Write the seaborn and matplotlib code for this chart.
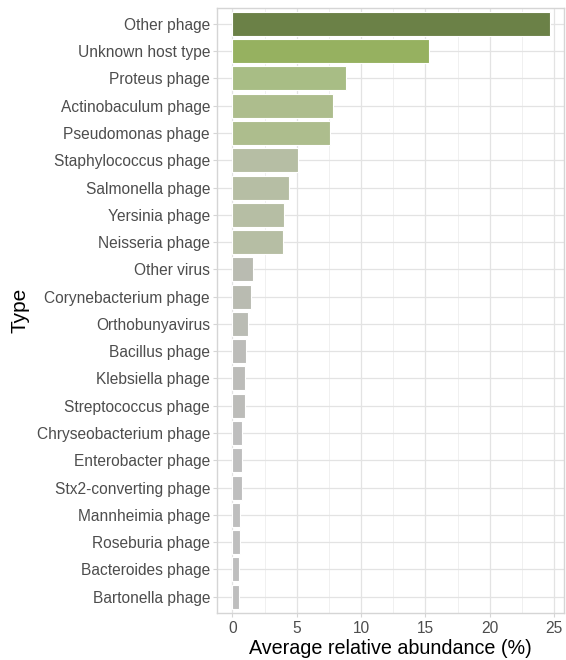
import numpy as np
import pandas as pd
import matplotlib
matplotlib.use("Agg")
import matplotlib.pyplot as plt
import seaborn as sns
from matplotlib.ticker import MultipleLocator

# Data
types = [
    "Other phage", "Unknown host type", "Proteus phage", "Actinobaculum phage",
    "Pseudomonas phage", "Staphylococcus phage", "Salmonella phage",
    "Yersinia phage", "Neisseria phage", "Other virus", "Corynebacterium phage",
    "Orthobunyavirus", "Bacillus phage", "Klebsiella phage", "Streptococcus phage",
    "Chryseobacterium phage", "Enterobacter phage", "Stx2-converting phage",
    "Mannheimia phage", "Roseburia phage", "Bacteroides phage", "Bartonella phage",
]
abundance = [24.7, 15.3, 8.8, 7.8, 7.6, 5.1, 4.4, 4.05, 3.9, 1.6, 1.45,
             1.25, 1.04, 1.0, 0.96, 0.74, 0.73, 0.72, 0.6, 0.58, 0.53, 0.52]
bar_colors = ["#6E8B3D", "#9ABF52", "#AAC77B", "#B0C585", "#B0C585",
              "#B8C2A0", "#B8C2A0", "#B8C2A0", "#B8C2A0", "#BABDAF", "#BABDAF",
              "#BBBDB3", "#BCBDB8", "#BCBDB8", "#BCBDB8", "#BEBEBE", "#BEBEBE",
              "#BEBEBE", "#BEBEBE", "#BEBEBE", "#BEBEBE", "#BEBEBE"]

df = pd.DataFrame({"Type": types, "Abundance": abundance})

sns.set_theme(style="whitegrid")
plt.rcParams["font.family"] = ["Liberation Sans", "DejaVu Sans"]

fig, ax = plt.subplots(figsize=(5.66, 6.6), dpi=100)
fig.subplots_adjust(left=0.3834, right=0.997, top=0.9885, bottom=0.0712)

sns.barplot(data=df, x="Abundance", y="Type", hue="Type", palette=bar_colors,
            legend=False, width=0.88, edgecolor="white", linewidth=0.8, ax=ax,
            zorder=3)

ax.set_xlim(-1.19, 25.78)
ax.set_ylim(len(types) - 0.4, -0.6)
ax.xaxis.set_major_locator(MultipleLocator(5))
ax.xaxis.set_minor_locator(MultipleLocator(2.5))
ax.grid(which="major", color="#E3E3E3", linewidth=0.9, zorder=0)
ax.grid(which="minor", axis="x", color="#EEEEEE", linewidth=0.6, zorder=0)
ax.set_axisbelow(True)

for s in ax.spines.values():
    s.set_visible(True)
    s.set_color("#D5D5D5")
    s.set_linewidth(1.0)

ax.tick_params(axis="both", which="major", length=3, color="#D5D5D5",
               labelsize=11.2, labelcolor="#4D4D4D", width=0.8, pad=2)
ax.tick_params(axis="x", which="major", pad=3)
ax.tick_params(axis="both", which="minor", length=0)
ax.tick_params(axis="x", bottom=True)
ax.tick_params(axis="y", left=True)

ax.set_xlabel("Average relative abundance (%)", fontsize=14.2, color="black", labelpad=2)
ax.set_ylabel("Type", fontsize=15, color="black", labelpad=5)

fig.savefig("out.png", dpi=100)
